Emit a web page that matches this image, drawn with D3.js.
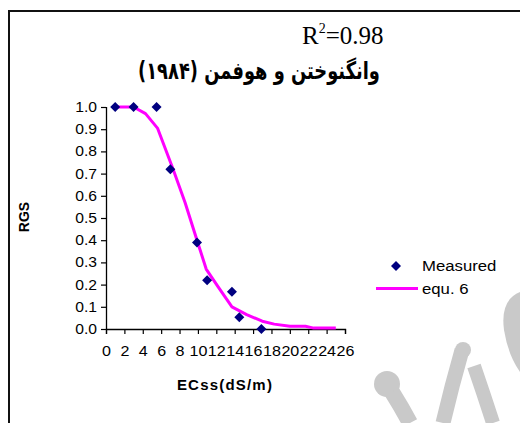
<!DOCTYPE html>
<html><head><meta charset="utf-8">
<script src="https://cdn.jsdelivr.net/npm/d3@7"></script>
<style>body{margin:0;background:#fff}svg{display:block}</style>
</head><body>
<svg id="c" width="520" height="423"></svg>
<script>
const measuredX = [1, 3, 5.5, 7, 9.9, 11, 13.7, 14.5, 16.9];
const measuredY = [1.0, 1.0, 1.0, 0.72, 0.39, 0.22, 0.168, 0.053, 0.0];
const fitX = [1, 3, 4.3, 5.6, 7.3, 8.6, 9.9, 10.9, 12.2, 13.7, 15.3, 17, 18.3, 20, 21.7, 22.6, 25];
const fitY = [1.0, 1.0, 0.97, 0.905, 0.72, 0.57, 0.40, 0.27, 0.19, 0.10, 0.065, 0.035, 0.022, 0.012, 0.012, 0.004, 0.004];
const xTicks = d3.range(0, 27, 2);
const yTicks = d3.range(0, 1.01, 0.1);
const legendLabels = ["Measured", "equ. 6"];
const titleText = "وانگنوختن و هوفمن (۱۹۸۴)";

const svg = d3.select("#c");
const sans = "Liberation Sans, Arial, sans-serif";

// watermark (decorative)
const wm = svg.append("g").attr("fill", "#c9c9c9").attr("stroke", "#c9c9c9");
wm.append("circle").attr("cx", 387).attr("cy", 384).attr("r", 13).attr("stroke", "none");
wm.append("path").attr("d", "M392,392 Q402,408 410,423").attr("fill", "none").attr("stroke-width", 16);
wm.append("path").attr("d", "M462,350 Q452,385 443,423").attr("fill", "none").attr("stroke-width", 15);
wm.append("circle").attr("cx", 463).attr("cy", 350).attr("r", 8).attr("stroke", "none");
wm.append("path").attr("d", "M474,366 Q484,395 493,423").attr("fill", "none").attr("stroke-width", 14);
wm.append("path").attr("d", "M520,292 Q500,300 504,330 Q508,355 520,372 Z").attr("stroke", "none");

// frame
svg.append("line").attr("x1", 9).attr("y1", 11).attr("x2", 520).attr("y2", 11).attr("stroke", "#111").attr("stroke-width", 2);
svg.append("line").attr("x1", 9).attr("y1", 10).attr("x2", 9).attr("y2", 423).attr("stroke", "#111").attr("stroke-width", 2);

const x = d3.scaleLinear().domain([0, 26]).range([106, 345]);
const y = d3.scaleLinear().domain([0, 1]).range([329, 107]);

const xAxis = svg.append("g").attr("transform", "translate(0,329)")
  .call(d3.axisBottom(x).tickValues(xTicks).tickSize(5).tickPadding(12).tickFormat(d3.format("d")));
const yAxis = svg.append("g").attr("transform", "translate(106,0)")
  .call(d3.axisLeft(y).tickValues(yTicks).tickSize(5).tickPadding(4).tickFormat(d3.format(".1f")));
[xAxis, yAxis].forEach(a => {
  a.select(".domain").attr("stroke", "#000").attr("stroke-width", 1.3);
  a.selectAll(".tick line").attr("stroke", "#000").attr("stroke-width", 1.2);
  a.selectAll("text").attr("font-family", sans).attr("font-size", 14).attr("fill", "#000");
});
xAxis.selectAll(".tick text").attr("transform", "scale(1.15,1)");
yAxis.selectAll(".tick text").attr("x", 0).attr("transform", "translate(-9,0) scale(1.12,1)");
yAxis.selectAll(".domain").attr("d", `M0.5,${y(1)}V${y(0)}`);

// fit line
const line = d3.line().x((d, i) => x(fitX[i])).y(d => y(d));
svg.append("path").datum(fitY).attr("d", line).attr("fill", "none")
  .attr("stroke", "#ff00ff").attr("stroke-width", 3).attr("stroke-linejoin", "round");

// markers
const diamond = d3.symbol().type(d3.symbolSquare).size(50);
svg.selectAll(".pt").data(measuredX).join("path").attr("class", "pt")
  .attr("d", diamond())
  .attr("transform", (d, i) => `translate(${x(d)},${y(measuredY[i])}) rotate(45)`)
  .attr("fill", "#000080");

// axis titles
svg.append("text").attr("transform", "translate(29,217) rotate(-90)").attr("text-anchor", "middle")
  .attr("font-family", sans).attr("font-weight", "bold").attr("font-size", 14)
  .text("RGS");
svg.append("text").attr("x", 225).attr("y", 390).attr("text-anchor", "middle")
  .attr("font-family", sans).attr("font-weight", "bold").attr("font-size", 15)
  .attr("letter-spacing", 1.2).text("ECss(dS/m)");

// R^2
const r2 = svg.append("text").attr("x", 302).attr("y", 44)
  .attr("font-family", "Liberation Serif, Times New Roman, serif").attr("font-size", 25).attr("fill", "#000");
r2.append("tspan").text("R");
r2.append("tspan").attr("dy", -11).attr("font-size", 14).text("2");
r2.append("tspan").attr("dy", 11).text("=0.98");

// Arabic title
const tg = svg.append("g");
const t = tg.append("text").attr("x", 0).attr("y", 0).attr("text-anchor", "middle")
  .attr("font-family", "DejaVu Sans, sans-serif").attr("font-weight", "bold").attr("font-size", 24)
  .attr("direction", "rtl").style("unicode-bidi", "embed").text(titleText);
const w = t.node().getComputedTextLength();
const sx = w > 0 ? 242 / w : 1;
tg.attr("transform", `translate(259,78.5) scale(${sx},1)`);

// legend
const lg = svg.append("g");
lg.append("path").attr("d", diamond()).attr("transform", "translate(396,266) rotate(45)").attr("fill", "#000080");
lg.append("line").attr("x1", 376).attr("x2", 418).attr("y1", 288.5).attr("y2", 288.5).attr("stroke", "#ff00ff").attr("stroke-width", 3);
lg.selectAll("text").data(legendLabels).join("text")
  .attr("transform", (d, i) => `translate(422,${271 + i * 23}) scale(1.08,1)`)
  .attr("font-family", sans).attr("font-size", 15.5).text(d => d);
</script>
</body></html>
